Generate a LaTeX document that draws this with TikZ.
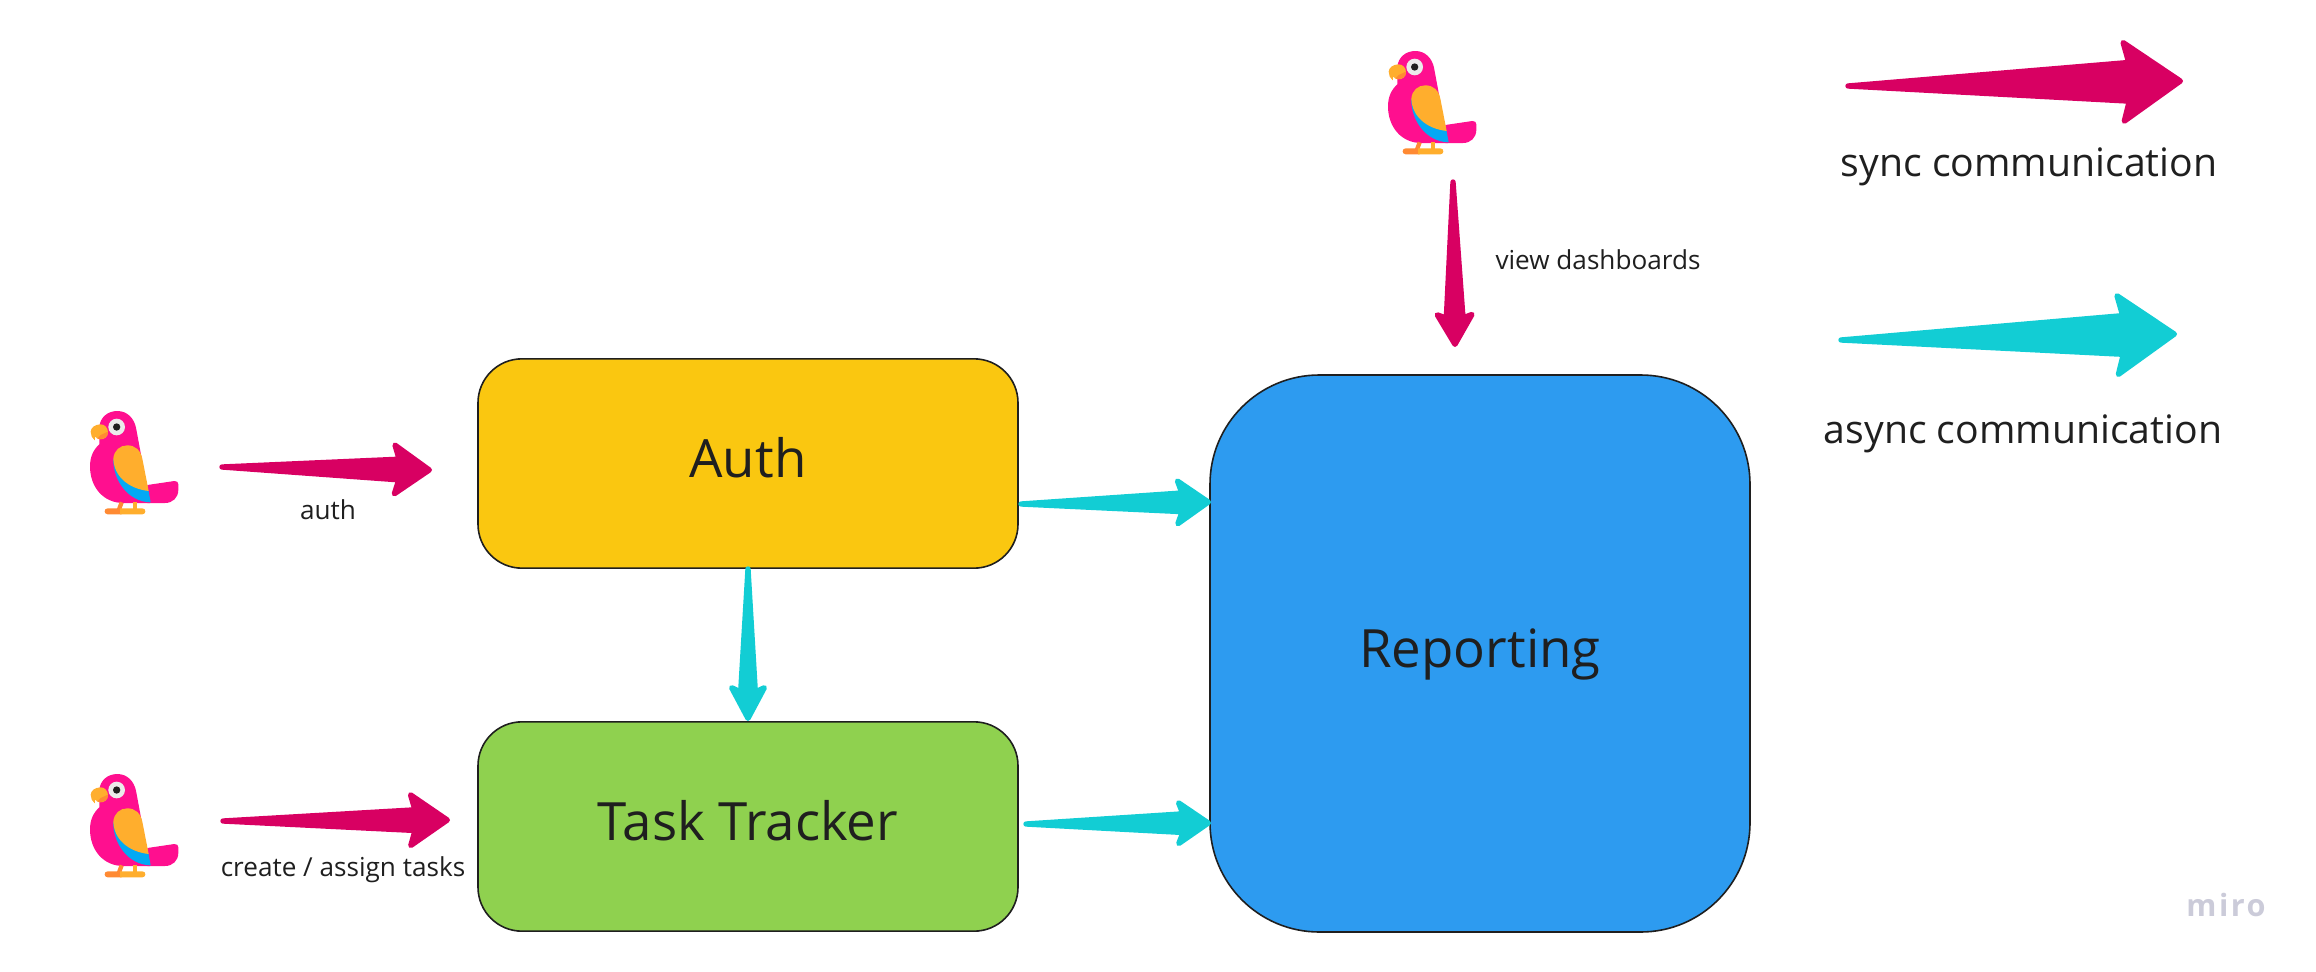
\documentclass[tikz,border=0pt]{standalone}
\usepackage{fontspec}
\setmainfont{Open Sans}
\usepackage{tikz}
\usetikzlibrary{calc}
\definecolor{authyellow}{HTML}{FAC710}
\definecolor{taskgreen}{HTML}{8FD14F}
\definecolor{reportblue}{HTML}{2D9BF0}
\definecolor{syncred}{HTML}{D80062}
\definecolor{asynccyan}{HTML}{12CDD4}
\definecolor{parrotpink}{HTML}{FF0F8F}
\definecolor{parrotyellow}{HTML}{FFAE2D}
\definecolor{parrotorange}{HTML}{FF8A33}
\definecolor{parrotblue}{HTML}{03A9F4}
\definecolor{inkgrey}{HTML}{1F1F1F}
\definecolor{miroglyph}{HTML}{CBCBD9}
\tikzset{
    taper/.style n args={4}{to path={
        -- ($($(\tikztotarget)!{#2*0.75pt}!(\tikztostart)$)!{(#4-2.67)*0.75pt}!90:(\tikztotarget)$)
        -- ($($(\tikztotarget)!{(#1-2.67)*0.75pt}!(\tikztostart)$)!{(#3-2.67)*0.75pt}!90:(\tikztotarget)$)
        -- ($(\tikztotarget)!2pt!(\tikztostart)$)
        -- ($($(\tikztotarget)!{(#1-2.67)*0.75pt}!(\tikztostart)$)!{(#3-2.67)*0.75pt}!-90:(\tikztotarget)$)
        -- ($($(\tikztotarget)!{#2*0.75pt}!(\tikztostart)$)!{(#4-2.67)*0.75pt}!-90:(\tikztotarget)$)
        -- cycle}},
    syncarrow/.style={draw=syncred,fill=syncred,line width=4pt,line join=round},
    asyncarrow/.style={draw=asynccyan,fill=asynccyan,line width=4pt,line join=round},
    service/.style={draw=inkgrey,line width=1.2pt,rectangle,text=inkgrey,text height=29pt,text depth=8pt,
        font=\fontsize{39.6}{48}\selectfont},
    smalllabel/.style={inner sep=0.75pt,text=inkgrey,font=\fontsize{19.6}{24}\selectfont},
    legendlabel/.style={inner sep=0.75pt,text=inkgrey,font=\fontsize{29.4}{36}\selectfont},
    parrot/.pic={
        \begin{scope}[xscale=1/3,yscale=-1/3,shift={(-90,-62)}]
        %Shape: tail
        \fill[parrotpink] (262,284) -- (343,272) .. controls (351,271) and (355,276) .. (355,282)
            -- (355,298) .. controls (355,322) and (338,338) .. (315,338) -- (262,338) -- cycle;
        %Shape: body
        \fill[parrotpink] (172,62) .. controls (202,62) and (222,84) .. (228,112) -- (270,338)
            -- (190,338) .. controls (130,338) and (90,290) .. (90,228)
            .. controls (90,200) and (100,178) .. (118,162) -- (118,110)
            .. controls (120,82) and (142,62) .. (172,62) -- cycle;
        %Shape: wing shadow
        \fill[parrotblue] (160,205) .. controls (158,270) and (205,335) .. (272,336)
            -- (265,298) -- (180,220) -- cycle;
        %Shape: wing
        \fill[parrotyellow] (160,205) .. controls (162,180) and (180,165) .. (202,165)
            .. controls (226,165) and (242,180) .. (247,205) -- (266,302)
            .. controls (205,295) and (162,258) .. (160,205) -- cycle;
        %Shape: eye
        \fill[black!8] (170,110) circle (25);
        \fill[inkgrey] (170,110) circle (11);
        %Shape: beak
        \fill[parrotyellow] (122,102) .. controls (134,102) and (144,112) .. (144,126)
            .. controls (144,140) and (132,148) .. (118,147)
            .. controls (112,146) and (108,142) .. (106,138) -- (104,150)
            .. controls (96,144) and (92,134) .. (92,124)
            .. controls (92,112) and (106,102) .. (122,102) -- cycle;
        \fill[parrotorange] (144,124) .. controls (144,140) and (130,150) .. (112,145)
            -- (122,134) -- cycle;
        %Straight Lines: legs
        \draw[parrotorange,line width=3.2pt] (185,336) -- (176,360);
        \draw[parrotyellow,line width=3.2pt] (225,336) -- (225,360);
        %Shape: feet
        \fill[parrotorange] (143,354) -- (185,354) -- (185,372) -- (143,372)
            .. controls (131,372) and (131,354) .. (143,354) -- cycle;
        \fill[parrotyellow] (180,354) -- (247,354) .. controls (259,354) and (259,372) .. (247,372)
            -- (180,372) -- cycle;
        \end{scope}
    }
}
\begin{document}
\begin{tikzpicture}[x=0.75pt,y=0.75pt,yscale=-1,xscale=1]
    \useasboundingbox (0,0) rectangle (2316,971);
    % Parrots
    \pic (parrotAuth) at (90,411) {parrot};
    \pic (parrotTask) at (90,774) {parrot};
    \pic (parrotView) at (1388,51) {parrot};
    % Text Node
    \draw (748,463.5) node (auth) [service,fill=authyellow,minimum width=405pt,minimum height=157pt,rounded corners=33pt] {Auth};
    \draw (748,826.5) node (task) [service,fill=taskgreen,minimum width=405pt,minimum height=157pt,rounded corners=33pt] {Task Tracker};
    \draw (1480,653.5) node (reporting) [service,fill=reportblue,minimum width=405pt,minimum height=417.75pt,rounded corners=82pt] {Reporting};
    % Text Node
    \draw (328,510) node (authLabel) [smalllabel] {auth};
    \draw (343,870) node (taskLabel) [smalllabel] {create / assign tasks};
    \draw (1598,260) node (viewLabel) [smalllabel] {view dashboards};
    \draw (2029,167) node (syncLabel) [legendlabel] {sync communication};
    \draw (2023,434) node (asyncLabel) [legendlabel] {async communication};
    \draw (2226,905) node (miroMark) [inner sep=0pt,text=miroglyph,font=\fontsize{23}{26}\selectfont\bfseries\addfontfeatures{LetterSpace=8}] {miro};
    % Arrow ends
    \coordinate (authFrom) at (222,467);
    \coordinate (authTo) at (432,470);
    \coordinate (taskFrom) at (223,821);
    \coordinate (taskTo) at (450,820);
    \coordinate (viewFrom) at (1453,182);
    \coordinate (viewTo) at (1455,347);
    \coordinate (syncFrom) at (1848,86);
    \coordinate (syncTo) at (2183,81);
    \coordinate (asyncFrom) at (1841,340);
    \coordinate (asyncTo) at (2177,334);
    \coordinate (authOut) at (1021,504);
    \coordinate (authIn) at (1211,502);
    \coordinate (taskOut) at (1026,824);
    \coordinate (taskIn) at (1211,823);
    % Arrows
    \draw[syncarrow] (authFrom) to[taper={40}{33}{27}{13}] (authTo);
    \draw[syncarrow] (taskFrom) to[taper={42}{35}{28}{13}] (taskTo);
    \draw[syncarrow] (viewFrom) to[taper={35}{29}{20}{11}] (viewTo);
    \draw[syncarrow] (syncFrom) to[taper={62}{54}{42}{22}] (syncTo);
    \draw[asyncarrow] (asyncFrom) to[taper={62}{54}{42}{22}] (asyncTo);
    \draw[asyncarrow] (authOut) to[taper={36}{29}{24}{12}] (authIn);
    \draw[asyncarrow] (taskOut) to[taper={35}{28}{23}{12}] (taskIn);
    \draw[asyncarrow] (auth.south) to[taper={36}{29}{19}{10}] (task.north);
\end{tikzpicture}
\end{document}
